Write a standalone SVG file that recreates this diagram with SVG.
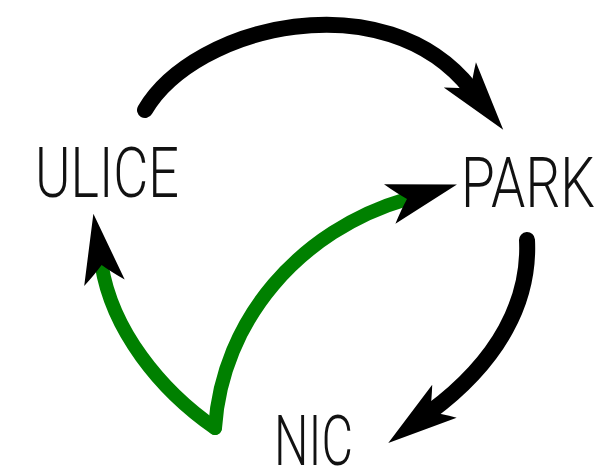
<svg xmlns="http://www.w3.org/2000/svg" width="608" height="470" viewBox="0 0 608 470">
<style>
.lbl{font-family:Roboto,"Open Sans","DejaVu Sans",sans-serif;font-weight:300;font-size:70px;fill:#111}
.blk{fill:none;stroke:#000;stroke-width:16;stroke-linecap:round}
.grn{fill:none;stroke:#008000;stroke-width:14;stroke-linecap:round}
</style>
<defs>
<marker id="ah" markerUnits="userSpaceOnUse" viewBox="-20 -25 75 50" markerWidth="75" markerHeight="50" refX="0" refY="0" orient="auto" overflow="visible">
<path d="M52,0 L-18,-20.5 Q-8,-8 0,0 Q-8,8 -18,20.5 Z" fill="#000"/>
</marker>
</defs>
<g id="connectors">
<path class="blk" d="M145,110 C195,25 385,-20 471,89" marker-end="url(#ah)"/>
<path class="blk" d="M527,240 C530,300 500,360 430,412" marker-end="url(#ah)"/>
<path class="grn" d="M215,428 C160,390 112,330 101.6,265" marker-end="url(#ah)"/>
<path class="grn" d="M215,428 C222,320 300,230 407,199" marker-end="url(#ah)"/>
</g>
<g id="ulice"><text class="lbl" x="35" y="197" textLength="144" lengthAdjust="spacingAndGlyphs">ULICE</text></g>
<g id="park"><text class="lbl" x="461" y="207" textLength="134" lengthAdjust="spacingAndGlyphs">PARK</text></g>
<g id="nic"><text class="lbl" x="274" y="465" textLength="79" lengthAdjust="spacingAndGlyphs">NIC</text></g>
</svg>
